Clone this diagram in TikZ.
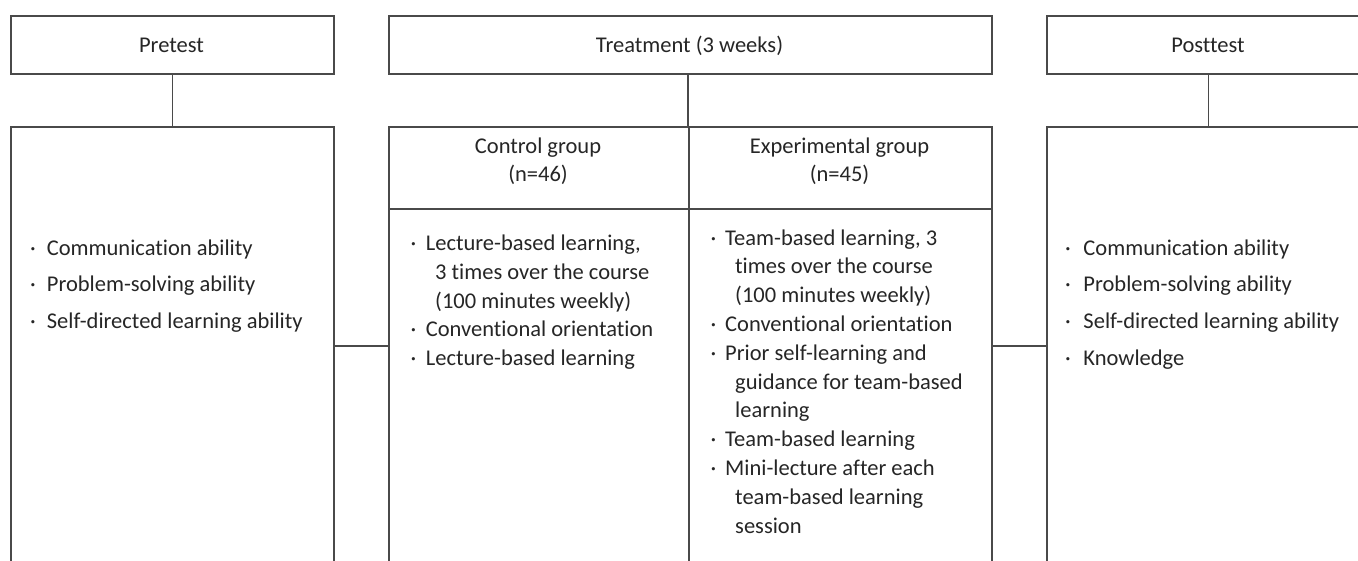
\documentclass[tikz,border=0pt]{standalone}
\usepackage{fontspec}
\setmainfont{Carlito}[Ligatures=NoCommon]
\definecolor{ln}{HTML}{4A4A4A}
\definecolor{tx}{HTML}{262626}
\newcommand{\bl}[2]{\hbox{\makebox[#1][l]{·}#2}}
\newcommand{\cl}[1]{\hbox{\hspace*{24.7pt}#1}}
\newcommand{\ctr}[1]{\vtop{\halign{\hfil##\hfil\cr#1\cr}}}
\begin{document}
\begin{tikzpicture}[x=1pt,y=-1pt,
  box/.style={draw=ln, line width=1.5pt, rectangle, inner sep=0pt, anchor=north west},
  conn/.style={draw=ln, line width=1.5pt},
  lbl/.style={text=tx, font=\fontsize{22.5}{28.5}\selectfont, inner sep=0pt, anchor=base},
  lst/.style={text=tx, inner sep=0pt, anchor=base west},
]
\useasboundingbox (0,0) rectangle (1358,560);
\clip (0,0) rectangle (1358,560);
\fill[white] (0,0) rectangle (1358,560);
% top boxes
\node[box, minimum width=323pt, minimum height=58pt] (pre) at (10,15) {};
\node[box, minimum width=603pt, minimum height=58pt] (treat) at (388,15) {};
\node[box, minimum width=323pt, minimum height=58pt] (post) at (1046,15) {};
% lower boxes
\node[box, minimum width=323pt, minimum height=480pt] (prelow) at (10,126) {};
\node[box, minimum width=300pt, minimum height=82pt] (ctrlhead) at (388,126) {};
\node[box, minimum width=300pt, minimum height=400pt] (ctrlbody) at (388,208) {};
\node[box, minimum width=303pt, minimum height=82pt] (exphead) at (688,126) {};
\node[box, minimum width=303pt, minimum height=400pt] (expbody) at (688,208) {};
\node[box, minimum width=323pt, minimum height=480pt] (postlow) at (1046,126) {};
% connectors
\coordinate (hy) at (0,346);
\draw[conn] (pre.south) -- (prelow.north);
\draw[conn] (exphead.north west |- treat.south) -- (exphead.north west);
\draw[conn] (post.south) -- (postlow.north);
\draw[conn] (prelow.east |- hy) -- (ctrlbody.west |- hy);
\draw[conn] (expbody.east |- hy) -- (postlow.west |- hy);
% labels
\node[lbl] (pretxt) at (171.5,52) {Pretest};
\node[lbl] (treattxt) at (689.5,52) {Treatment (3 weeks)};
\node[lbl] (posttxt) at (1208,52) {Posttest};
\node[lbl] (ctrltxt) at (538,153) {\ctr{Control group\cr(n=46)}};
\node[lbl] (exptxt) at (839.5,153) {\ctr{Experimental group\cr(n=45)}};
% lists
\node[lst, font=\fontsize{22.5}{36.7}\selectfont] (prelist) at (30,255)
  {\vtop{\bl{16.7pt}{Communication ability}
   \bl{16.7pt}{Problem-solving ability}
   \bl{16.7pt}{Self-directed learning ability}}};
\node[lst, font=\fontsize{22.5}{28.7}\selectfont] (ctrllist) at (410.3,250.7)
  {\vtop{\bl{15.4pt}{Lecture-based learning,}
   \cl{3 times over the course}
   \cl{(100 minutes weekly)}
   \bl{15.4pt}{Conventional orientation}
   \bl{15.4pt}{Lecture-based learning}}};
\node[lst, font=\fontsize{22.5}{28.8}\selectfont] (explist) at (710.3,245)
  {\vtop{\bl{14.7pt}{Team-based learning, 3}
   \cl{times over the course}
   \cl{(100 minutes weekly)}
   \bl{14.7pt}{Conventional orientation}
   \bl{14.7pt}{Prior self-learning and}
   \cl{guidance for team-based}
   \cl{learning}
   \bl{14.7pt}{Team-based learning}
   \bl{14.7pt}{Mini-lecture after each}
   \cl{team-based learning}
   \cl{session}}};
\node[lst, font=\fontsize{22.5}{36.7}\selectfont] (postlist) at (1065,255)
  {\vtop{\bl{18.3pt}{Communication ability}
   \bl{18.3pt}{Problem-solving ability}
   \bl{18.3pt}{Self-directed learning ability}
   \bl{18.3pt}{Knowledge}}};
\end{tikzpicture}
\end{document}
